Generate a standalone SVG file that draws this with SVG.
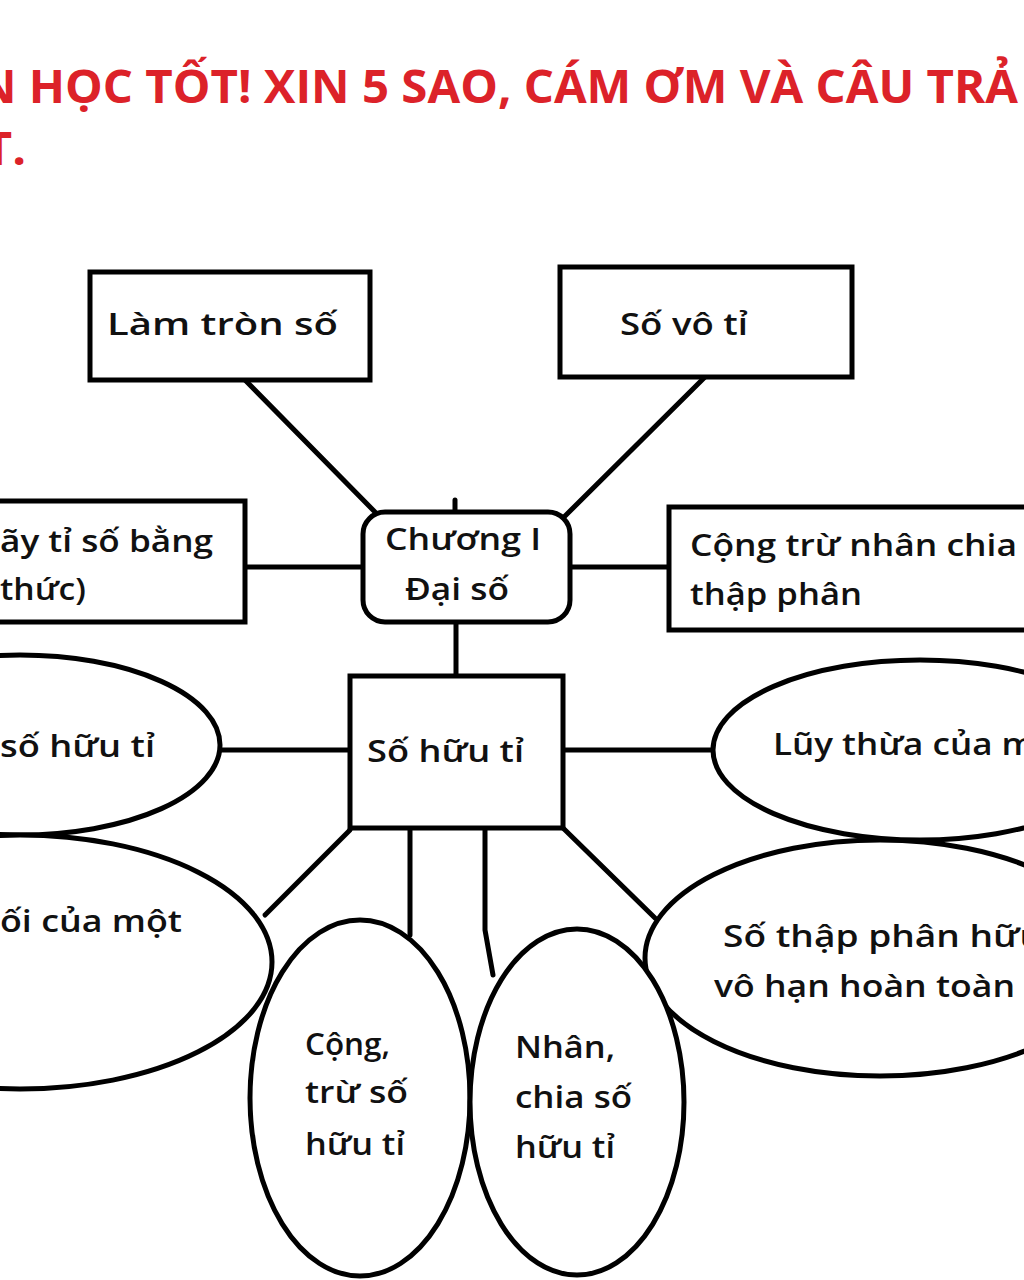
<svg xmlns="http://www.w3.org/2000/svg" width="1024" height="1280" viewBox="0 0 1024 1280">
<style>
.s{fill:#fff;stroke:#000;stroke-width:5}
.c{stroke:#000;stroke-width:5;fill:none;stroke-linecap:round}
.t{font-family:"Open Sans","Noto Sans",sans-serif;font-size:31px;font-weight:600;fill:#111}
.h{font-family:"Open Sans","Noto Sans",sans-serif;font-size:46px;font-weight:bold;fill:#dc2229}
</style>
<rect width="1024" height="1280" fill="#fff"/>
<g id="title">
<text class="h" x="-22" y="103" textLength="1040" lengthAdjust="spacingAndGlyphs">N HỌC TỐT! XIN 5 SAO, CÁM ƠM VÀ CÂU TRẢ</text>
<text class="h" x="-16" y="165" textLength="42" lengthAdjust="spacingAndGlyphs">T.</text>
</g>
<g id="connectors">
<line class="c" x1="245" y1="380" x2="375" y2="512"/>
<line class="c" x1="705" y1="377" x2="563" y2="518"/>
<line class="c" x1="245" y1="567" x2="363" y2="567"/>
<line class="c" x1="570" y1="567" x2="669" y2="567"/>
<line class="c" x1="456" y1="622" x2="456" y2="676"/>
<line class="c" x1="455" y1="500" x2="455" y2="520"/>
<line class="c" x1="220" y1="750" x2="350" y2="750"/>
<line class="c" x1="563" y1="750" x2="713" y2="750"/>
<line class="c" x1="350" y1="830" x2="265" y2="915"/>
<line class="c" x1="410" y1="830" x2="410" y2="935"/>
<polyline class="c" points="485,830 485,930 493,975"/>
<line class="c" x1="563" y1="828" x2="655" y2="918"/>
</g>
<g id="n-lamtron">
<rect class="s" x="90" y="272" width="280" height="108"/>
<text class="t" x="107" y="335" textLength="231" lengthAdjust="spacingAndGlyphs">Làm tròn số</text>
</g>
<g id="n-sovoti">
<rect class="s" x="560" y="267" width="292" height="110"/>
<text class="t" x="620" y="335" textLength="128" lengthAdjust="spacingAndGlyphs">Số vô tỉ</text>
</g>
<g id="n-tiso">
<rect class="s" x="-20" y="501" width="265" height="121"/>
<text class="t" x="0" y="552" textLength="213" lengthAdjust="spacingAndGlyphs">ãy tỉ số bằng</text>
<text class="t" x="0" y="600" textLength="86" lengthAdjust="spacingAndGlyphs">thức)</text>
</g>
<g id="n-chuong">
<rect class="s" x="363" y="512" width="207" height="110" rx="22"/>
<text class="t" x="385" y="550" textLength="156" lengthAdjust="spacingAndGlyphs">Chương I</text>
<text class="t" x="405" y="600" textLength="104" lengthAdjust="spacingAndGlyphs">Đại số</text>
</g>
<g id="n-congtru-tp">
<rect class="s" x="669" y="507" width="380" height="123"/>
<text class="t" x="690" y="556" textLength="327" lengthAdjust="spacingAndGlyphs">Cộng trừ nhân chia</text>
<text class="t" x="690" y="605" textLength="172" lengthAdjust="spacingAndGlyphs">thập phân</text>
</g>
<g id="n-left1">
<ellipse class="s" cx="20" cy="745" rx="200" ry="90"/>
<text class="t" x="0" y="757" textLength="155" lengthAdjust="spacingAndGlyphs">số hữu tỉ</text>
</g>
<g id="n-luythua">
<ellipse class="s" cx="920" cy="750" rx="207" ry="90"/>
<text class="t" x="773" y="755" textLength="262" lengthAdjust="spacingAndGlyphs">Lũy thừa của m</text>
</g>
<g id="n-left2">
<ellipse class="s" cx="20" cy="962" rx="252" ry="127"/>
<text class="t" x="0" y="932" textLength="182" lengthAdjust="spacingAndGlyphs">ối của một</text>
</g>
<g id="n-thapphan">
<ellipse class="s" cx="880" cy="958" rx="235" ry="118"/>
<text class="t" x="723" y="947" textLength="320" lengthAdjust="spacingAndGlyphs">Số thập phân hữu</text>
<text class="t" x="714" y="997" textLength="301" lengthAdjust="spacingAndGlyphs">vô hạn hoàn toàn</text>
</g>
<g id="n-sohuuti">
<rect class="s" x="350" y="676" width="213" height="152"/>
<text class="t" x="367" y="762" textLength="157" lengthAdjust="spacingAndGlyphs">Số hữu tỉ</text>
</g>
<g id="n-cong">
<ellipse class="s" cx="360" cy="1098" rx="110" ry="178"/>
<text class="t" x="305" y="1055" textLength="85" lengthAdjust="spacingAndGlyphs">Cộng,</text>
<text class="t" x="305" y="1103" textLength="103" lengthAdjust="spacingAndGlyphs">trừ số</text>
<text class="t" x="305" y="1155" textLength="100" lengthAdjust="spacingAndGlyphs">hữu tỉ</text>
</g>
<g id="n-nhan">
<ellipse class="s" cx="577" cy="1102" rx="107" ry="173"/>
<text class="t" x="515" y="1058" textLength="100" lengthAdjust="spacingAndGlyphs">Nhân,</text>
<text class="t" x="515" y="1108" textLength="117" lengthAdjust="spacingAndGlyphs">chia số</text>
<text class="t" x="515" y="1158" textLength="100" lengthAdjust="spacingAndGlyphs">hữu tỉ</text>
</g>
</svg>
